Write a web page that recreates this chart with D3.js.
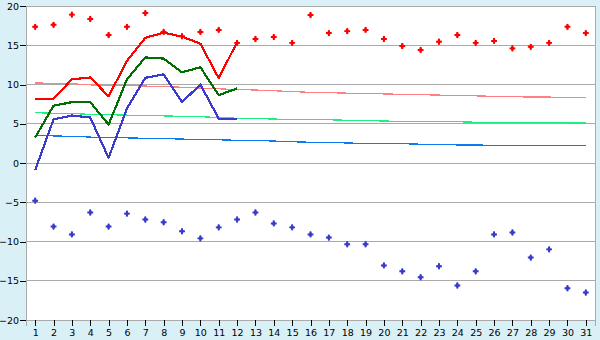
<!DOCTYPE html>
<html>
<head>
<meta charset="utf-8">
<script src="https://cdn.jsdelivr.net/npm/d3@7"></script>
<style>
  body { margin: 0; background: #daf0f7; }
  svg { display: block; }
  text { font-family: "DejaVu Sans", sans-serif; font-size: 9.5px; fill: #000; }
</style>
</head>
<body>
<div id="chart"></div>
<script>
// days of the month
const days = d3.range(1, 32);

// daily max / min (points)
const maxPoints = [17.35, 17.6, 18.9, 18.35, 16.3, 17.35, 19.1, 16.7, 16.15, 16.7, 16.95, 15.3, 15.8, 16.05, 15.3,
  18.85, 16.55, 16.8, 16.95, 15.8, 14.9, 14.4, 15.45, 16.3, 15.3, 15.55, 14.6, 14.8, 15.3, 17.35, 16.55];
const minPoints = [-4.8, -8.1, -9.1, -6.3, -8.1, -6.45, -7.2, -7.55, -8.7, -9.6, -8.2, -7.2, -6.3, -7.7, -8.2,
  -9.1, -9.5, -10.35, -10.35, -13.05, -13.8, -14.55, -13.15, -15.6, -13.8, -9.1, -8.85, -12.05, -11.0, -15.95, -16.5];

// current month (first 12 days)
const maxLine = [8.2, 8.2, 10.65, 10.9, 8.5, 13.0, 15.95, 16.6, 16.1, 15.2, 10.8, 15.4];
const meanLine = [3.25, 7.3, 7.75, 7.75, 4.9, 10.65, 13.45, 13.3, 11.55, 12.2, 8.65, 9.5];
const minLine = [-0.9, 5.55, 6.05, 5.8, 0.65, 6.95, 10.85, 11.3, 7.75, 10.0, 5.65, 5.65];

// normals
const normMax = [10.2, 10.15, 10.1, 9.95, 9.9, 9.85, 9.8, 9.75, 9.65, 9.55, 9.45, 9.35, 9.3, 9.2, 9.1, 9.0,
  8.95, 8.9, 8.85, 8.8, 8.75, 8.7, 8.65, 8.6, 8.55, 8.5, 8.45, 8.4, 8.4, 8.35, 8.3];
const normMean = [6.4, 6.35, 6.3, 6.2, 6.15, 6.1, 6.05, 6.0, 5.95, 5.9, 5.8, 5.7, 5.65, 5.6, 5.55, 5.5,
  5.5, 5.45, 5.4, 5.35, 5.3, 5.3, 5.25, 5.25, 5.2, 5.2, 5.15, 5.15, 5.15, 5.1, 5.1];
const normMin = [3.5, 3.45, 3.4, 3.3, 3.25, 3.2, 3.15, 3.1, 3.05, 3.0, 2.95, 2.9, 2.85, 2.8, 2.7, 2.65,
  2.6, 2.55, 2.5, 2.5, 2.45, 2.4, 2.35, 2.3, 2.3, 2.25, 2.25, 2.2, 2.2, 2.2, 2.2];

const yTicks = [-20, -15, -10, -5, 0, 5, 10, 15, 20];

const width = 600, height = 340;
const margin = {top: 6, right: 5, bottom: 20, left: 26};

const svg = d3.select("#chart").append("svg")
  .attr("width", width)
  .attr("height", height);

const x = d3.scalePoint()
  .domain(days)
  .range([margin.left, width - margin.right])
  .padding(0.5);

const y = d3.scaleLinear()
  .domain([-20, 20])
  .range([height - margin.bottom, margin.top]);

// plot background
svg.append("rect")
  .attr("x", margin.left)
  .attr("y", margin.top)
  .attr("width", width - margin.left - margin.right)
  .attr("height", height - margin.top - margin.bottom)
  .attr("fill", "#fff")
  .attr("stroke", "#aaa")
  .attr("shape-rendering", "crispEdges");

// gridlines
svg.append("g")
  .selectAll("line")
  .data(yTicks)
  .join("line")
    .attr("x1", margin.left)
    .attr("x2", width - margin.right)
    .attr("y1", d => y(d))
    .attr("y2", d => y(d))
    .attr("stroke", "#aaa")
    .attr("shape-rendering", "crispEdges");

// axes
const yAxis = svg.append("g")
  .attr("transform", `translate(${margin.left},0)`)
  .call(d3.axisLeft(y).tickValues(yTicks).tickSize(6).tickPadding(1));
yAxis.select(".domain").attr("stroke", "#aaa");

const xAxis = svg.append("g")
  .attr("transform", `translate(0,${height - margin.bottom})`)
  .call(d3.axisBottom(x).tickSize(6).tickPadding(3));
xAxis.select(".domain").attr("stroke", "#aaa");

svg.selectAll(".tick line").attr("stroke", "#000").attr("shape-rendering", "crispEdges");
svg.selectAll(".tick text")
  .style("font-family", "'DejaVu Sans', sans-serif")
  .style("font-size", "9.5px")
  .attr("fill", "#000");

const line = d3.line()
  .x((d, i) => x(days[i]))
  .y(d => y(d));

// normal lines
[[normMax, "#ff8080"], [normMean, "#1ef080"], [normMin, "#0a7cf0"]].forEach(([data, color]) => {
  svg.append("path")
    .datum(data)
    .attr("d", line)
    .attr("fill", "none")
    .attr("stroke", color)
    .attr("stroke-width", 1.2)
    .attr("shape-rendering", "crispEdges");
});

// current lines
[[maxLine, "#ff0000"], [meanLine, "#006e00"], [minLine, "#3a3acc"]].forEach(([data, color]) => {
  svg.append("path")
    .datum(data)
    .attr("d", line)
    .attr("fill", "none")
    .attr("stroke", color)
    .attr("stroke-width", 2.2)
    .attr("stroke-linejoin", "round")
    .attr("shape-rendering", "crispEdges");
});

// point markers
const cross = d3.symbol().type(d3.symbolCross).size(19);
const diamond = d3.symbol().type(d3.symbolDiamond).size(13);

[[maxPoints, "#ff0000"], [minPoints, "#3a3acc"]].forEach(([data, color]) => {
  const g = svg.append("g")
    .selectAll("g")
    .data(data)
    .join("g")
      .attr("transform", (d, i) => `translate(${x(days[i])},${y(d)})`);
  g.append("path").attr("d", cross).attr("fill", color);
  g.append("path").attr("d", diamond).attr("fill", color);
});
</script>
</body>
</html>
